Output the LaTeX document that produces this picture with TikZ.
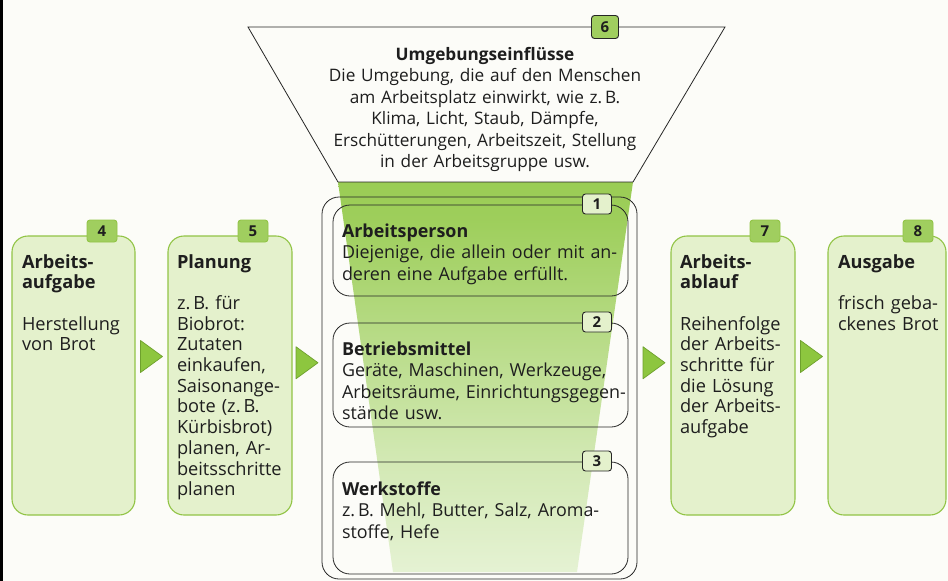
\documentclass[tikz,border=0pt]{standalone}
\usepackage{fontspec}
\setmainfont{Open Sans}
\usetikzlibrary{calc}
\definecolor{fgreen}{RGB}{141,198,63}
\definecolor{boxfill}{RGB}{228,241,204}
\definecolor{boxline}{RGB}{146,196,70}
\definecolor{badgefill}{RGB}{160,206,95}
\definecolor{txt}{RGB}{30,30,30}
\definecolor{triline}{RGB}{110,160,45}
\definecolor{bg}{RGB}{252,252,248}
\pgfdeclareverticalshading{funnelshade}{100bp}{color(0bp)=(white); color(12bp)=(fgreen!8!white); color(40bp)=(fgreen!40!white); color(70bp)=(fgreen!85!white); color(90bp)=(fgreen); color(100bp)=(fgreen)}
\tikzset{
  gbox/.style={draw=boxline, fill=boxfill, rounded corners=16pt, line width=1.1pt, anchor=north west, inner sep=0pt, outer sep=0pt},
  kbox/.style={draw=black!85, rounded corners=17pt, line width=0.8pt, anchor=north west, inner sep=0pt, outer sep=0pt},
  badge/.style={draw=boxline, fill=badgefill, rounded corners=3pt, minimum width=30pt, minimum height=22pt, inner sep=0pt, line width=0.9pt, font=\bfseries\fontsize{15}{15}\selectfont, text=txt},
  kbadge/.style={badge, draw=black!85, fill=boxfill, minimum width=29pt, minimum height=20pt},
  tri/.style={fill=fgreen, draw=triline, line width=0.7pt, line join=round},
  txtnode/.style={anchor=base west, inner sep=0pt, outer sep=0pt, align=left, text=txt},
  sidetext/.style={txtnode, text width=118pt, font=\fontsize{18.2}{20.7}\selectfont},
  ctrtext/.style={txtnode, text width=300pt, font=\fontsize{17.9}{21.5}\selectfont},
}
\begin{document}
\begin{tikzpicture}[x=1pt,y=-1pt]
\useasboundingbox (0,0) rectangle (948,581);
\fill[bg] (0,0) rectangle (948,581);
\fill[black] (0,0) rectangle (3,581);

% green funnel light
\shade[shading=funnelshade] (338,182) -- (633,182) -- (577,572) -- (393,572) -- cycle;

% trapezoid
\draw[black!85, line width=0.8pt] (248,27) -- (725,27) -- (633,182) -- (338,182) -- cycle;
\node[badge, draw=black!85, minimum width=27pt, minimum height=23pt] (n6) at (605,27) {6};
\node[anchor=base, inner sep=0pt, text width=340pt, align=center, text=txt,
      font=\fontsize{17.2}{21.5}\selectfont] (t6) at (485,60)
  {\textbf{Umgebungseinflüsse}\\
   Die Umgebung, die auf den Menschen\\
   am Arbeitsplatz einwirkt, wie z.\,B.\\
   Klima, Licht, Staub, Dämpfe,\\
   Erschütterungen, Arbeitszeit, Stellung\\
   in der Arbeitsgruppe usw.};

% side boxes
\node[gbox, minimum width=123pt, minimum height=279pt] (b4) at (12,236) {};
\node[gbox, minimum width=124pt, minimum height=279pt] (b5) at (168,236) {};
\node[gbox, minimum width=124pt, minimum height=279pt] (b7) at (671,236) {};
\node[gbox, minimum width=118pt, minimum height=279pt] (b8) at (828,236) {};
\node[badge] (n4) at (102,231) {4};
\node[badge] (n5) at (253,231) {5};
\node[badge] (n7) at (765,231) {7};
\node[badge] (n8) at (918,231) {8};

\node[sidetext] (t4) at (22,268) {\textbf{Arbeits-}\\\textbf{aufgabe}\\[20.7pt]Herstellung\\von Brot};
\node[sidetext] (t5) at (177,268) {\textbf{Planung}\\[20.7pt]z.\,B. für\\Biobrot:\\Zutaten\\einkaufen,\\Saisonange-\\bote (z.\,B.\\Kürbisbrot)\\planen, Ar-\\beitsschritte\\planen};
\node[sidetext] (t7) at (680,268) {\textbf{Arbeits-}\\\textbf{ablauf}\\[20.7pt]Reihenfolge\\der Arbeits-\\schritte für\\die Lösung\\der Arbeits-\\aufgabe};
\node[sidetext] (t8) at (838,268) {\textbf{Ausgabe}\\[20.7pt]frisch geba-\\ckenes Brot};

% center boxes
\node[kbox, minimum width=315pt, minimum height=382pt] (outer) at (322,197) {};
\node[kbox, minimum width=295pt, minimum height=91pt] (b1) at (333,205) {};
\node[kbox, minimum width=295pt, minimum height=104pt] (b2) at (333,323) {};
\node[kbox, minimum width=295pt, minimum height=112pt] (b3) at (333,462) {};
\node[kbadge] (n1) at (597,204) {1};
\node[kbadge] (n2) at (597,322) {2};
\node[kbadge] (n3) at (597,461) {3};

\node[ctrtext] (t1) at (342,237) {\textbf{Arbeitsperson}\\Diejenige, die allein oder mit an-\\deren eine Aufgabe erfüllt.};
\node[ctrtext] (t2) at (342,355) {\textbf{Betriebsmittel}\\Geräte, Maschinen, Werkzeuge,\\Arbeitsräume, Einrichtungsgegen-\\stände usw.};
\node[ctrtext] (t3) at (342,495) {\textbf{Werkstoffe}\\z.\,B. Mehl, Butter, Salz, Aroma-\\stoffe, Hefe};

% arrows
\coordinate (a45) at ($(b4.east)!0.5!(b5.west)+(0,-19)$);
\coordinate (a5c) at ($(b5.east)!0.5!(outer.west)+(0,-19)$);
\coordinate (ac7) at ($(outer.east)!0.5!(b7.west)+(0,-19)$);
\coordinate (a78) at ($(b7.east)!0.5!(b8.west)+(0,-19)$);
\foreach \c in {a45,a5c,ac7,a78}{
  \draw[tri] ($(\c)+(-11,-16)$) -- ($(\c)+(11,0)$) -- ($(\c)+(-11,16)$) -- cycle;
}
\end{tikzpicture}
\end{document}
